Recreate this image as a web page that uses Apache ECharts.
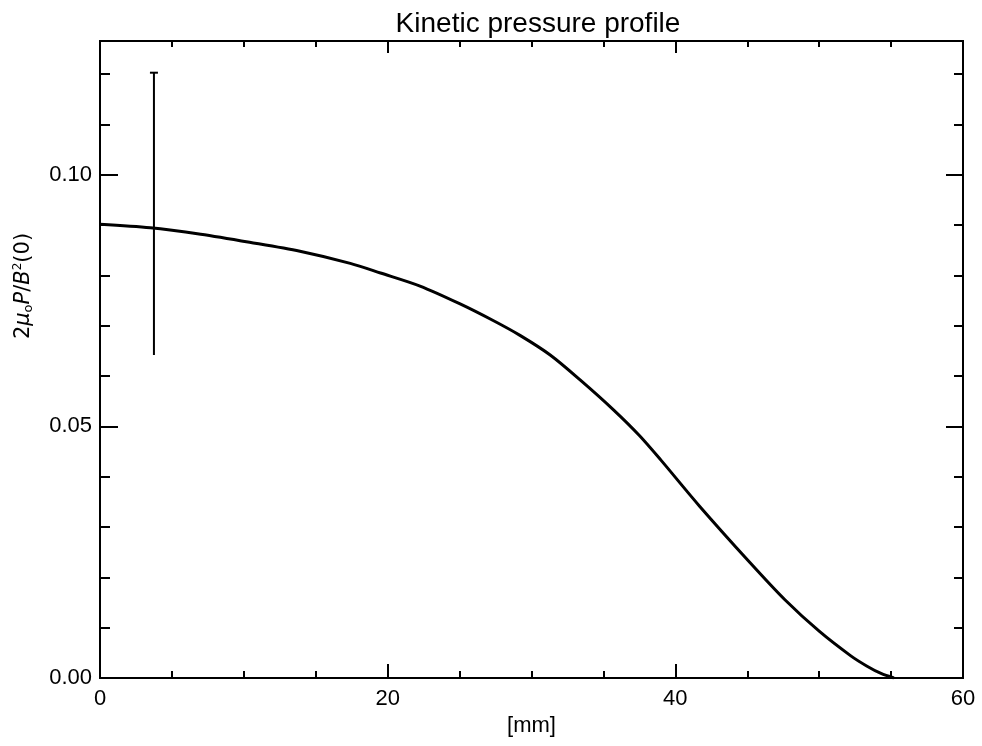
<!DOCTYPE html>
<html>
<head>
<meta charset="utf-8">
<script src="https://cdn.jsdelivr.net/npm/echarts@6/dist/echarts.min.js"></script>
<style>
  html, body { margin: 0; padding: 0; background: #fff; }
  #chart { width: 982px; height: 746px; }
</style>
</head>
<body>
<div id="chart"></div>
<script>
// Radial position [mm] and normalised kinetic pressure 2·mu0·P / B^2(0)
const radiusMm = [0, 3.5, 7, 10.4, 13.9, 17.4, 19.5, 22.25, 25, 27.3, 29.2, 31.3, 33.4, 35.7, 37.5, 39, 41.7, 45.2, 47.6, 50, 52.2, 53.3, 54.3, 55.2];
const pressure = [0.0902, 0.0895, 0.0882, 0.0866, 0.0848, 0.0824, 0.0805, 0.0779, 0.0744, 0.0711, 0.0681, 0.0642, 0.0592, 0.0533, 0.0482, 0.0433, 0.0341, 0.0229, 0.0156, 0.0093, 0.0044, 0.0024, 0.0009, 0.0];

// Single error bar
const errRadius = [3.75];
const errLow = [0.0642];
const errHigh = [0.1203];

// Axis ranges and tick labels
const xRange = [0, 60];
const xTickLabels = ['0', '20', '40', '60'];
const yRange = [0, 0.1266];
const yTickLabels = ['0.00', '0.05', '0.10'];

const FONT = 'Liberation Sans';
const BLACK = '#000';

const curve = radiusMm.map((r, i) => [r, pressure[i]]);
const errData = errRadius.map((r, i) => [r, errLow[i], errHigh[i]]);

function yAxisDef(position, interval, tickLen, withLabels) {
  return {
    type: 'value',
    position: position,
    min: yRange[0],
    max: yRange[1],
    interval: interval,
    splitLine: { show: false },
    axisLine: { show: true, onZero: false, lineStyle: { color: BLACK, width: 2 } },
    axisTick: { show: true, inside: true, length: tickLen, lineStyle: { color: BLACK, width: 2 } },
    axisLabel: withLabels ? {
      show: true,
      margin: 8,
      color: BLACK,
      fontFamily: FONT,
      fontSize: 22,
      showMaxLabel: false,
      formatter: function (v) {
        const k = Math.round(v / 0.05);
        return Math.abs(v - k * 0.05) < 1e-9 ? yTickLabels[k] : '';
      }
    } : { show: false }
  };
}

function xAxisDef(position, majorLen, minorLen, withLabels) {
  return {
    type: 'value',
    position: position,
    min: xRange[0],
    max: xRange[1],
    interval: 20,
    splitLine: { show: false },
    axisLine: { show: true, onZero: false, lineStyle: { color: BLACK, width: 2 } },
    axisTick: { show: true, inside: true, length: majorLen, lineStyle: { color: BLACK, width: 2 } },
    minorTick: { show: true, splitNumber: 4, length: minorLen, lineStyle: { color: BLACK, width: 2 } },
    axisLabel: withLabels ? {
      show: true,
      margin: 10,
      color: BLACK,
      fontFamily: FONT,
      fontSize: 22,
      formatter: function (v) { return xTickLabels[Math.round(v / 20)]; }
    } : { show: false },
    name: withLabels ? '[mm]' : '',
    nameLocation: 'middle',
    nameGap: 36,
    nameTextStyle: { color: BLACK, fontFamily: FONT, fontSize: 22 }
  };
}

const chart = echarts.init(document.getElementById('chart'), null, { renderer: 'canvas' });

chart.setOption({
  animation: false,
  backgroundColor: '#fff',
  title: {
    text: 'Kinetic pressure profile',
    left: 533,
    textAlign: 'center',
    top: 5,
    textStyle: { color: BLACK, fontFamily: FONT, fontSize: 28, fontWeight: 'normal' }
  },
  grid: { left: 100, right: 19, top: 41, bottom: 68, containLabel: false },
  xAxis: [
    xAxisDef('bottom', 14, 7, true),
    xAxisDef('top', 12, 6, false)
  ],
  yAxis: [
    yAxisDef('left', 0.05, 18, true),
    yAxisDef('left', 0.01, 10, false),
    yAxisDef('right', 0.05, 17, false),
    yAxisDef('right', 0.01, 9, false)
  ],
  graphic: [{
    type: 'text',
    x: 24,
    y: 286,
    rotation: Math.PI / 2,
    style: {
      text: '2{i|μ}{s|o}{i|P}/{i|B}{u|2}(0)',
      align: 'center',
      verticalAlign: 'middle',
      fill: BLACK,
      font: '21px "DejaVu Sans"',
      rich: {
        i: { fontStyle: 'italic', fontFamily: 'DejaVu Sans', fontSize: 21, fill: BLACK },
        s: { fontFamily: 'DejaVu Sans', fontSize: 13, fill: BLACK, padding: [10, 0, 0, 0] },
        u: { fontFamily: 'DejaVu Sans', fontSize: 12, fill: BLACK, padding: [0, 0, 12, 0] }
      }
    }
  }],
  series: [
    {
      type: 'line',
      xAxisIndex: 0,
      yAxisIndex: 0,
      data: curve,
      showSymbol: false,
      smooth: 0.3,
      lineStyle: { color: BLACK, width: 3 },
      z: 3
    },
    {
      type: 'custom',
      xAxisIndex: 0,
      yAxisIndex: 0,
      data: errData,
      encode: { x: 0, y: [1, 2] },
      renderItem: function (params, api) {
        const x = api.value(0);
        const lo = api.coord([x, api.value(1)]);
        const hi = api.coord([x, api.value(2)]);
        return {
          type: 'group',
          children: [
            { type: 'line', shape: { x1: lo[0], y1: lo[1], x2: hi[0], y2: hi[1] }, style: { stroke: BLACK, lineWidth: 2 } },
            { type: 'line', shape: { x1: hi[0] - 4, y1: hi[1], x2: hi[0] + 4, y2: hi[1] }, style: { stroke: BLACK, lineWidth: 2 } }
          ]
        };
      },
      z: 4
    }
  ]
});
</script>
</body>
</html>
